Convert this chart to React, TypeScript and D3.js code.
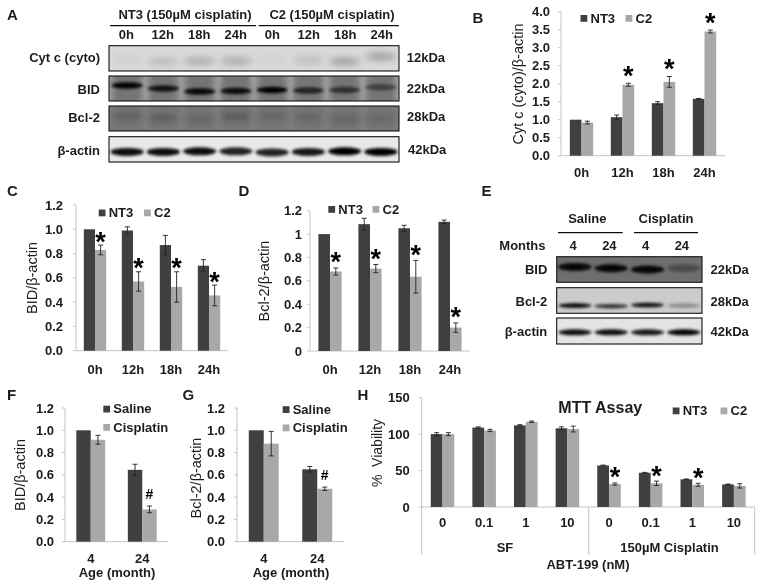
import React from "react";
import * as d3 from "d3";

const DARK = "#414141";
const LIGHT = "#a8a8a8";
const AXIS = "#c4c4c4";
const INK = "#1c1c1c";
const FONT = "'Liberation Sans', Arial, sans-serif";

const hours = ["0h", "12h", "18h", "24h"];
const ages = ["4", "24"];
const doses = ["0", "0.1", "1", "10", "0 ", "0.1 ", "1 ", "10 "];

const bNT3 = [1.0, 1.07, 1.46, 1.58];
const bNT3Err = [0, 0.06, 0.04, 0.01];
const bC2 = [0.92, 1.97, 2.05, 3.45];
const bC2Err = [0.04, 0.04, 0.15, 0.04];
const bMarks = ["", "*", "*", "*"];
const bTicks = ["0.0", "0.5", "1.0", "1.5", "2.0", "2.5", "3.0", "3.5", "4.0"];

const cNT3 = [1.0, 0.99, 0.87, 0.7];
const cNT3Err = [0, 0.03, 0.08, 0.05];
const cC2 = [0.83, 0.57, 0.525, 0.455];
const cC2Err = [0.04, 0.08, 0.125, 0.085];
const cMarks = ["*", "*", "*", "*"];

const dNT3 = [1.0, 1.085, 1.05, 1.105];
const dNT3Err = [0, 0.05, 0.025, 0.015];
const dC2 = [0.68, 0.705, 0.635, 0.2];
const dC2Err = [0.03, 0.035, 0.14, 0.04];
const dMarks = ["*", "*", "*", "*"];

const fSaline = [1.0, 0.645];
const fSalineErr = [0, 0.05];
const fCis = [0.915, 0.29];
const fCisErr = [0.04, 0.03];
const fMarks = ["", "#"];

const gSaline = [1.0, 0.65];
const gSalineErr = [0, 0.025];
const gCis = [0.88, 0.475];
const gCisErr = [0.11, 0.015];
const gMarks = ["", "#"];

const hNT3 = [100, 109, 112, 108, 57, 47, 38, 31];
const hNT3Err = [2, 1, 1, 2, 0.5, 0.5, 0.5, 0.5];
const hC2 = [100, 105, 117, 107, 31.5, 32.5, 30.5, 29];
const hC2Err = [2, 1.5, 1, 4, 1.5, 3, 2, 3];
const hMarks = ["", "", "", "", "*", "*", "*", ""];

const ticks12 = ["0.0", "0.2", "0.4", "0.6", "0.8", "1.0", "1.2"];
const ticks12D = ["0", "0.2", "0.4", "0.6", "0.8", "1", "1.2"];
const ticks150 = ["0", "50", "100", "150"];

// Western blot band strengths, read lane by lane
const lanesA = ["NT3 0h", "NT3 12h", "NT3 18h", "NT3 24h", "C2 0h", "C2 12h", "C2 18h", "C2 24h"];
const cytBands = [0.05, 0.17, 0.25, 0.25, 0.04, 0.15, 0.32, 0.32];
const cytY = [0.55, 0.62, 0.6, 0.6, 0.55, 0.58, 0.62, 0.43];
const bidBands = [1, 0.85, 0.95, 0.9, 1, 0.7, 0.6, 0.45];
const bidY = [0.38, 0.5, 0.62, 0.6, 0.56, 0.58, 0.56, 0.45];
const bcl2Bands = [0.3, 0.32, 0.22, 0.38, 0.22, 0.22, 0.26, 0.18];
const bcl2Y = [0.42, 0.47, 0.52, 0.42, 0.42, 0.45, 0.52, 0.5];
const actinBands = [0.95, 0.95, 0.95, 0.85, 0.85, 0.9, 1, 1];
const actinY = [0.6, 0.6, 0.58, 0.58, 0.62, 0.6, 0.58, 0.6];

const lanesE = ["Saline 4", "Saline 24", "Cisplatin 4", "Cisplatin 24"];
const eBid = [0.95, 0.95, 0.95, 0.3];
const eBidY = [0.4, 0.45, 0.5, 0.45];
const eBcl2 = [1, 0.75, 0.95, 0.3];
const eBcl2Y = [0.7, 0.72, 0.68, 0.7];
const eActin = [0.95, 0.95, 0.9, 1];
const eActinY = [0.55, 0.55, 0.55, 0.55];

const T = ({ x, y, s = 13, w = "bold", a = "start", children, rot }: any) => (
  <text
    x={x}
    y={y}
    fontSize={s}
    fontWeight={w}
    textAnchor={a}
    fontFamily={FONT}
    fill={INK}
    transform={rot ? `rotate(${rot} ${x} ${y})` : undefined}
  >
    {children}
  </text>
);

function BarChart({
  cats, a, aErr, b, bErr, marks, max, tickLabels, x0, x1, y0, yTop, pad, labelW = 12,
  ylabel, ylabelX, ylabelY, ylabelSize = 14.5, tickDy = 21, markGap = 9, tickFont = 13,
}: any) {
  const x = d3.scaleBand<string>().domain(cats).range([x0, x1]).paddingInner(pad).paddingOuter(pad / 2);
  const inner = d3.scaleBand<string>().domain(["a", "b"]).range([0, x.bandwidth()]);
  const y = d3.scaleLinear().domain([0, max]).range([y0, yTop]);
  const tickVals = d3.range(tickLabels.length).map((i) => (i * max) / (tickLabels.length - 1));
  const err = (cx: number, v: number, e: number, k: string) =>
    e > 0 ? (
      <g key={k} stroke="#222" strokeWidth={0.9}>
        <line x1={cx} x2={cx} y1={y(v - e)} y2={y(v + e)} />
        <line x1={cx - 2.5} x2={cx + 2.5} y1={y(v + e)} y2={y(v + e)} />
        <line x1={cx - 2.5} x2={cx + 2.5} y1={y(v - e)} y2={y(v - e)} />
      </g>
    ) : null;
  return (
    <g>
      <line x1={x0} x2={x0} y1={y0} y2={yTop} stroke={AXIS} />
      <line x1={x0} x2={x1} y1={y0} y2={y0} stroke={AXIS} />
      {tickVals.map((v: number, i: number) => (
        <g key={i}>
          <line x1={x0 - 3} x2={x0} y1={y(v)} y2={y(v)} stroke={AXIS} />
          <T x={x0 - labelW} y={y(v) + 4.6} s={tickFont} a="end">{tickLabels[i]}</T>
        </g>
      ))}
      {cats.map((c: string, i: number) => {
        const gx = x(c)!;
        const ax = gx + inner("a")!;
        const bx = gx + inner("b")!;
        const w = inner.bandwidth();
        const top = y(b[i] + bErr[i]);
        const isStar = marks[i] === "*";
        return (
          <g key={c}>
            <rect x={ax} width={w} y={y(a[i])} height={y0 - y(a[i])} fill={DARK} />
            <rect x={bx} width={w} y={y(b[i])} height={y0 - y(b[i])} fill={LIGHT} />
            {err(ax + w / 2, a[i], aErr[i], "a")}
            {err(bx + w / 2, b[i], bErr[i], "b")}
            {marks[i] ? (
              <text
                x={bx + w / 2}
                y={isStar ? top - markGap + 12.5 : top - 7.5}
                fontSize={isStar ? 27 : 14}
                fontWeight="bold"
                textAnchor="middle"
                fontFamily={FONT}
                fill="#000"
              >
                {marks[i]}
              </text>
            ) : null}
            <T x={gx + x.bandwidth() / 2} y={y0 + tickDy} a="middle">{c}</T>
          </g>
        );
      })}
      <T x={ylabelX} y={ylabelY} s={ylabelSize} w="normal" a="middle" rot={-90}>{ylabel}</T>
    </g>
  );
}

const Legend = ({ items }: any) => (
  <g>
    {items.map((it: any) => (
      <g key={it.label}>
        <rect x={it.x} y={it.y} width={6.8} height={6.8} fill={it.color} />
        <T x={it.x + 10} y={it.y + 7.5}>{it.label}</T>
      </g>
    ))}
  </g>
);

function BlotRow({ id, lanes, values, ys, x0, x1, y, h, bg, lane, bandH = 7, bandW = 0.86, blur = 1.5, dark = "#050505" }: any) {
  const x = d3.scaleBand<string>().domain(lanes).range([x0, x1]);
  const ypos = d3.scaleLinear().domain([0, 1]).range([y, y + h]);
  return (
    <g>
      <clipPath id={id}><rect x={x0} y={y} width={x1 - x0} height={h} /></clipPath>
      <g clipPath={`url(#${id})`}>
        <rect x={x0} y={y} width={x1 - x0} height={h} fill={bg} />
        {lane
          ? lanes.map((l: string) => (
              <rect key={l} x={x(l)! + 3} width={x.bandwidth() - 6} y={y - 4} height={h + 8} fill={lane} filter="url(#b3)" />
            ))
          : null}
        {lanes.map((l: string, i: number) => (
          <ellipse
            key={l}
            cx={x(l)! + x.bandwidth() / 2}
            cy={ypos(ys[i])}
            rx={(x.bandwidth() * bandW) / 2}
            ry={bandH / 2}
            fill={dark}
            opacity={values[i]}
            filter={blur === 1.5 ? "url(#b15)" : "url(#b3)"}
          />
        ))}
      </g>
      <rect x={x0} y={y} width={x1 - x0} height={h} fill="none" stroke="#111" strokeWidth={1.1} />
    </g>
  );
}

export default function App() {
  const laneA = d3.scaleBand<string>().domain(lanesA).range([108, 400]);
  const laneE = d3.scaleBand<string>().domain(lanesE).range([555, 700]);
  return (
    <svg width={762} height={588} style={{ position: "absolute", left: 0, top: 0, background: "#fff" }}>
      <defs>
        <filter id="b15" x="-30%" y="-80%" width="160%" height="260%"><feGaussianBlur stdDeviation="1.6" /></filter>
        <filter id="b3" x="-30%" y="-80%" width="160%" height="260%"><feGaussianBlur stdDeviation="3" /></filter>
        <filter id="soft" x="0" y="0" width="100%" height="100%"><feGaussianBlur stdDeviation="0.4" /></filter>
      </defs>
      <g filter="url(#soft)">
        <rect width={762} height={588} fill="#fff" />

        {/* Panel letters */}
        {[["A", 7, 20], ["B", 472.5, 23], ["C", 7, 196], ["D", 238.5, 196], ["E", 481.5, 196], ["F", 7, 399.5], ["G", 182.5, 399.5], ["H", 357.5, 399.5]].map(([l, x, y]: any) => (
          <T key={l} x={x} y={y} s={15}>{l}</T>
        ))}

        {/* A */}
        <T x={185} y={19} s={13} a="middle">NT3 (150µM cisplatin)</T>
        <T x={332} y={19} s={13} a="middle">C2 (150µM cisplatin)</T>
        <line x1={110} x2={256} y1={25.7} y2={25.7} stroke="#111" strokeWidth={1.2} />
        <line x1={258.7} x2={399} y1={25.7} y2={25.7} stroke="#111" strokeWidth={1.2} />
        {lanesA.map((l) => (
          <T key={l} x={laneA(l)! + laneA.bandwidth() / 2} y={39} a="middle">{l.split(" ")[1]}</T>
        ))}
        <BlotRow id="a1" lanes={lanesA} values={cytBands} ys={cytY} x0={109} x1={399} y={45.7} h={25.3} bg="#d9d9d9" blur={3} bandH={8} dark="#333" />
        <BlotRow id="a2" lanes={lanesA} values={bidBands} ys={bidY} x0={109} x1={399} y={76} h={25} bg="#a8a8a8" lane="#757575" bandH={6.5} />
        <BlotRow id="a3" lanes={lanesA} values={bcl2Bands} ys={bcl2Y} x0={109} x1={399} y={106} h={25} bg="#7f7f7f" lane="#757575" blur={3} bandH={7} dark="#222" />
        <BlotRow id="a4" lanes={lanesA} values={actinBands} ys={actinY} x0={109} x1={399} y={136.7} h={25.3} bg="#e9e9e9" bandH={8} bandW={0.92} />
        {[["Cyt c (cyto)", 62, "12kDa", 61.7, 406.7], ["BID", 94, "22kDa", 93, 406.7], ["Bcl-2", 121.5, "28kDa", 120.7, 407], ["β-actin", 155, "42kDa", 154, 408]].map(([a, y, k, yk, xk]: any) => (
          <g key={a}>
            <T x={100} y={y} a="end">{a}</T>
            <T x={xk} y={yk}>{k}</T>
          </g>
        ))}

        {/* B */}
        <BarChart cats={hours} a={bNT3} aErr={bNT3Err} b={bC2} bErr={bC2Err} marks={bMarks} max={4} tickLabels={bTicks}
          x0={561} x1={725} y0={155.7} yTop={11.7} pad={0.43} labelW={11}
          ylabel="Cyt c (cyto)/β-actin" ylabelX={523} ylabelY={84} markGap={11} />
        <Legend items={[{ x: 580.5, y: 15, color: DARK, label: "NT3" }, { x: 625.5, y: 15, color: LIGHT, label: "C2" }]} />

        {/* C */}
        <BarChart cats={hours} a={cNT3} aErr={cNT3Err} b={cC2} bErr={cC2Err} marks={cMarks} max={1.2} tickLabels={ticks12}
          x0={76} x1={228} y0={350.7} yTop={205} pad={0.41} labelW={13}
          ylabel="BID/β-actin" ylabelX={37} ylabelY={278} tickDy={23} markGap={7} />
        <Legend items={[{ x: 98.7, y: 209.5, color: DARK, label: "NT3" }, { x: 144, y: 209.5, color: LIGHT, label: "C2" }]} />

        {/* D */}
        <BarChart cats={hours} a={dNT3} aErr={dNT3Err} b={dC2} bErr={dC2Err} marks={dMarks} max={1.2} tickLabels={ticks12D}
          x0={310} x1={470} y0={351} yTop={210.7} pad={0.42} labelW={8}
          ylabel="Bcl-2/β-actin" ylabelX={268.5} ylabelY={281} tickDy={23} markGap={9} />
        <Legend items={[{ x: 328.3, y: 206, color: DARK, label: "NT3" }, { x: 372.5, y: 206, color: LIGHT, label: "C2" }]} />

        {/* E */}
        <T x={587.3} y={223.3} a="middle">Saline</T>
        <T x={666} y={223.3} a="middle">Cisplatin</T>
        <line x1={558} x2={622.7} y1={232.7} y2={232.7} stroke="#111" strokeWidth={1.2} />
        <line x1={634} x2={698} y1={232.7} y2={232.7} stroke="#111" strokeWidth={1.2} />
        <T x={499.3} y={250}>Months</T>
        {lanesE.map((l) => (
          <T key={l} x={laneE(l)! + laneE.bandwidth() / 2} y={250} a="middle">{l.split(" ")[1]}</T>
        ))}
        <BlotRow id="e1" lanes={lanesE} values={eBid} ys={eBidY} x0={556.7} x1={702} y={256.7} h={25.6} bg="#6e6e6e" bandH={8} bandW={0.92} />
        <BlotRow id="e2" lanes={lanesE} values={eBcl2} ys={eBcl2Y} x0={556.7} x1={702} y={287.7} h={25.6} bg="#cbcbcb" bandH={4.5} bandW={0.92} />
        <BlotRow id="e3" lanes={lanesE} values={eActin} ys={eActinY} x0={556.7} x1={702} y={318} h={26} bg="#e4e4e4" bandH={6} bandW={0.92} />
        {[["BID", 274, "22kDa"], ["Bcl-2", 305.7, "28kDa"], ["β-actin", 335.7, "42kDa"]].map(([a, y, k]: any) => (
          <g key={a}>
            <T x={547.3} y={y} a="end">{a}</T>
            <T x={710.5} y={y}>{k}</T>
          </g>
        ))}

        {/* F */}
        <BarChart cats={ages} a={fSaline} aErr={fSalineErr} b={fCis} bErr={fCisErr} marks={fMarks} max={1.2} tickLabels={ticks12}
          x0={65} x1={168} y0={541.7} yTop={408} pad={0.44} labelW={11}
          ylabel="BID/β-actin" ylabelX={24.5} ylabelY={475} />
        <T x={117} y={577} a="middle">Age (month)</T>
        <Legend items={[{ x: 103.3, y: 405.7, color: DARK, label: "Saline" }, { x: 103.3, y: 424, color: LIGHT, label: "Cisplatin" }]} />

        {/* G */}
        <BarChart cats={ages} a={gSaline} aErr={gSalineErr} b={gCis} bErr={gCisErr} marks={gMarks} max={1.2} tickLabels={ticks12}
          x0={237} x1={344} y0={541.7} yTop={408} pad={0.44} labelW={12}
          ylabel="Bcl-2/β-actin" ylabelX={200.5} ylabelY={478} />
        <T x={291} y={577} a="middle">Age (month)</T>
        <Legend items={[{ x: 282.7, y: 406.2, color: DARK, label: "Saline" }, { x: 282.7, y: 424.5, color: LIGHT, label: "Cisplatin" }]} />

        {/* H */}
        <BarChart cats={doses} a={hNT3} aErr={hNT3Err} b={hC2} bErr={hC2Err} marks={hMarks} max={150} tickLabels={ticks150}
          x0={421.7} x1={754.7} y0={507} yTop={397.7} pad={0.435} labelW={12}
          ylabel={"%\u00a0 Viability"} ylabelX={382} ylabelY={453} ylabelSize={14} tickDy={20} />
        {[421.7, 588.7, 754.7].map((v) => (
          <line key={v} x1={v} x2={v} y1={507} y2={555} stroke={AXIS} />
        ))}
        <T x={505} y={551.7} a="middle">SF</T>
        <T x={669.5} y={551.7} a="middle">150µM Cisplatin</T>
        <T x={588} y={569} a="middle">ABT-199 (nM)</T>
        <T x={558.3} y={413.3} s={16}>MTT Assay</T>
        <Legend items={[{ x: 672.7, y: 407.5, color: DARK, label: "NT3" }, { x: 720.5, y: 407.5, color: LIGHT, label: "C2" }]} />
      </g>
    </svg>
  );
}
